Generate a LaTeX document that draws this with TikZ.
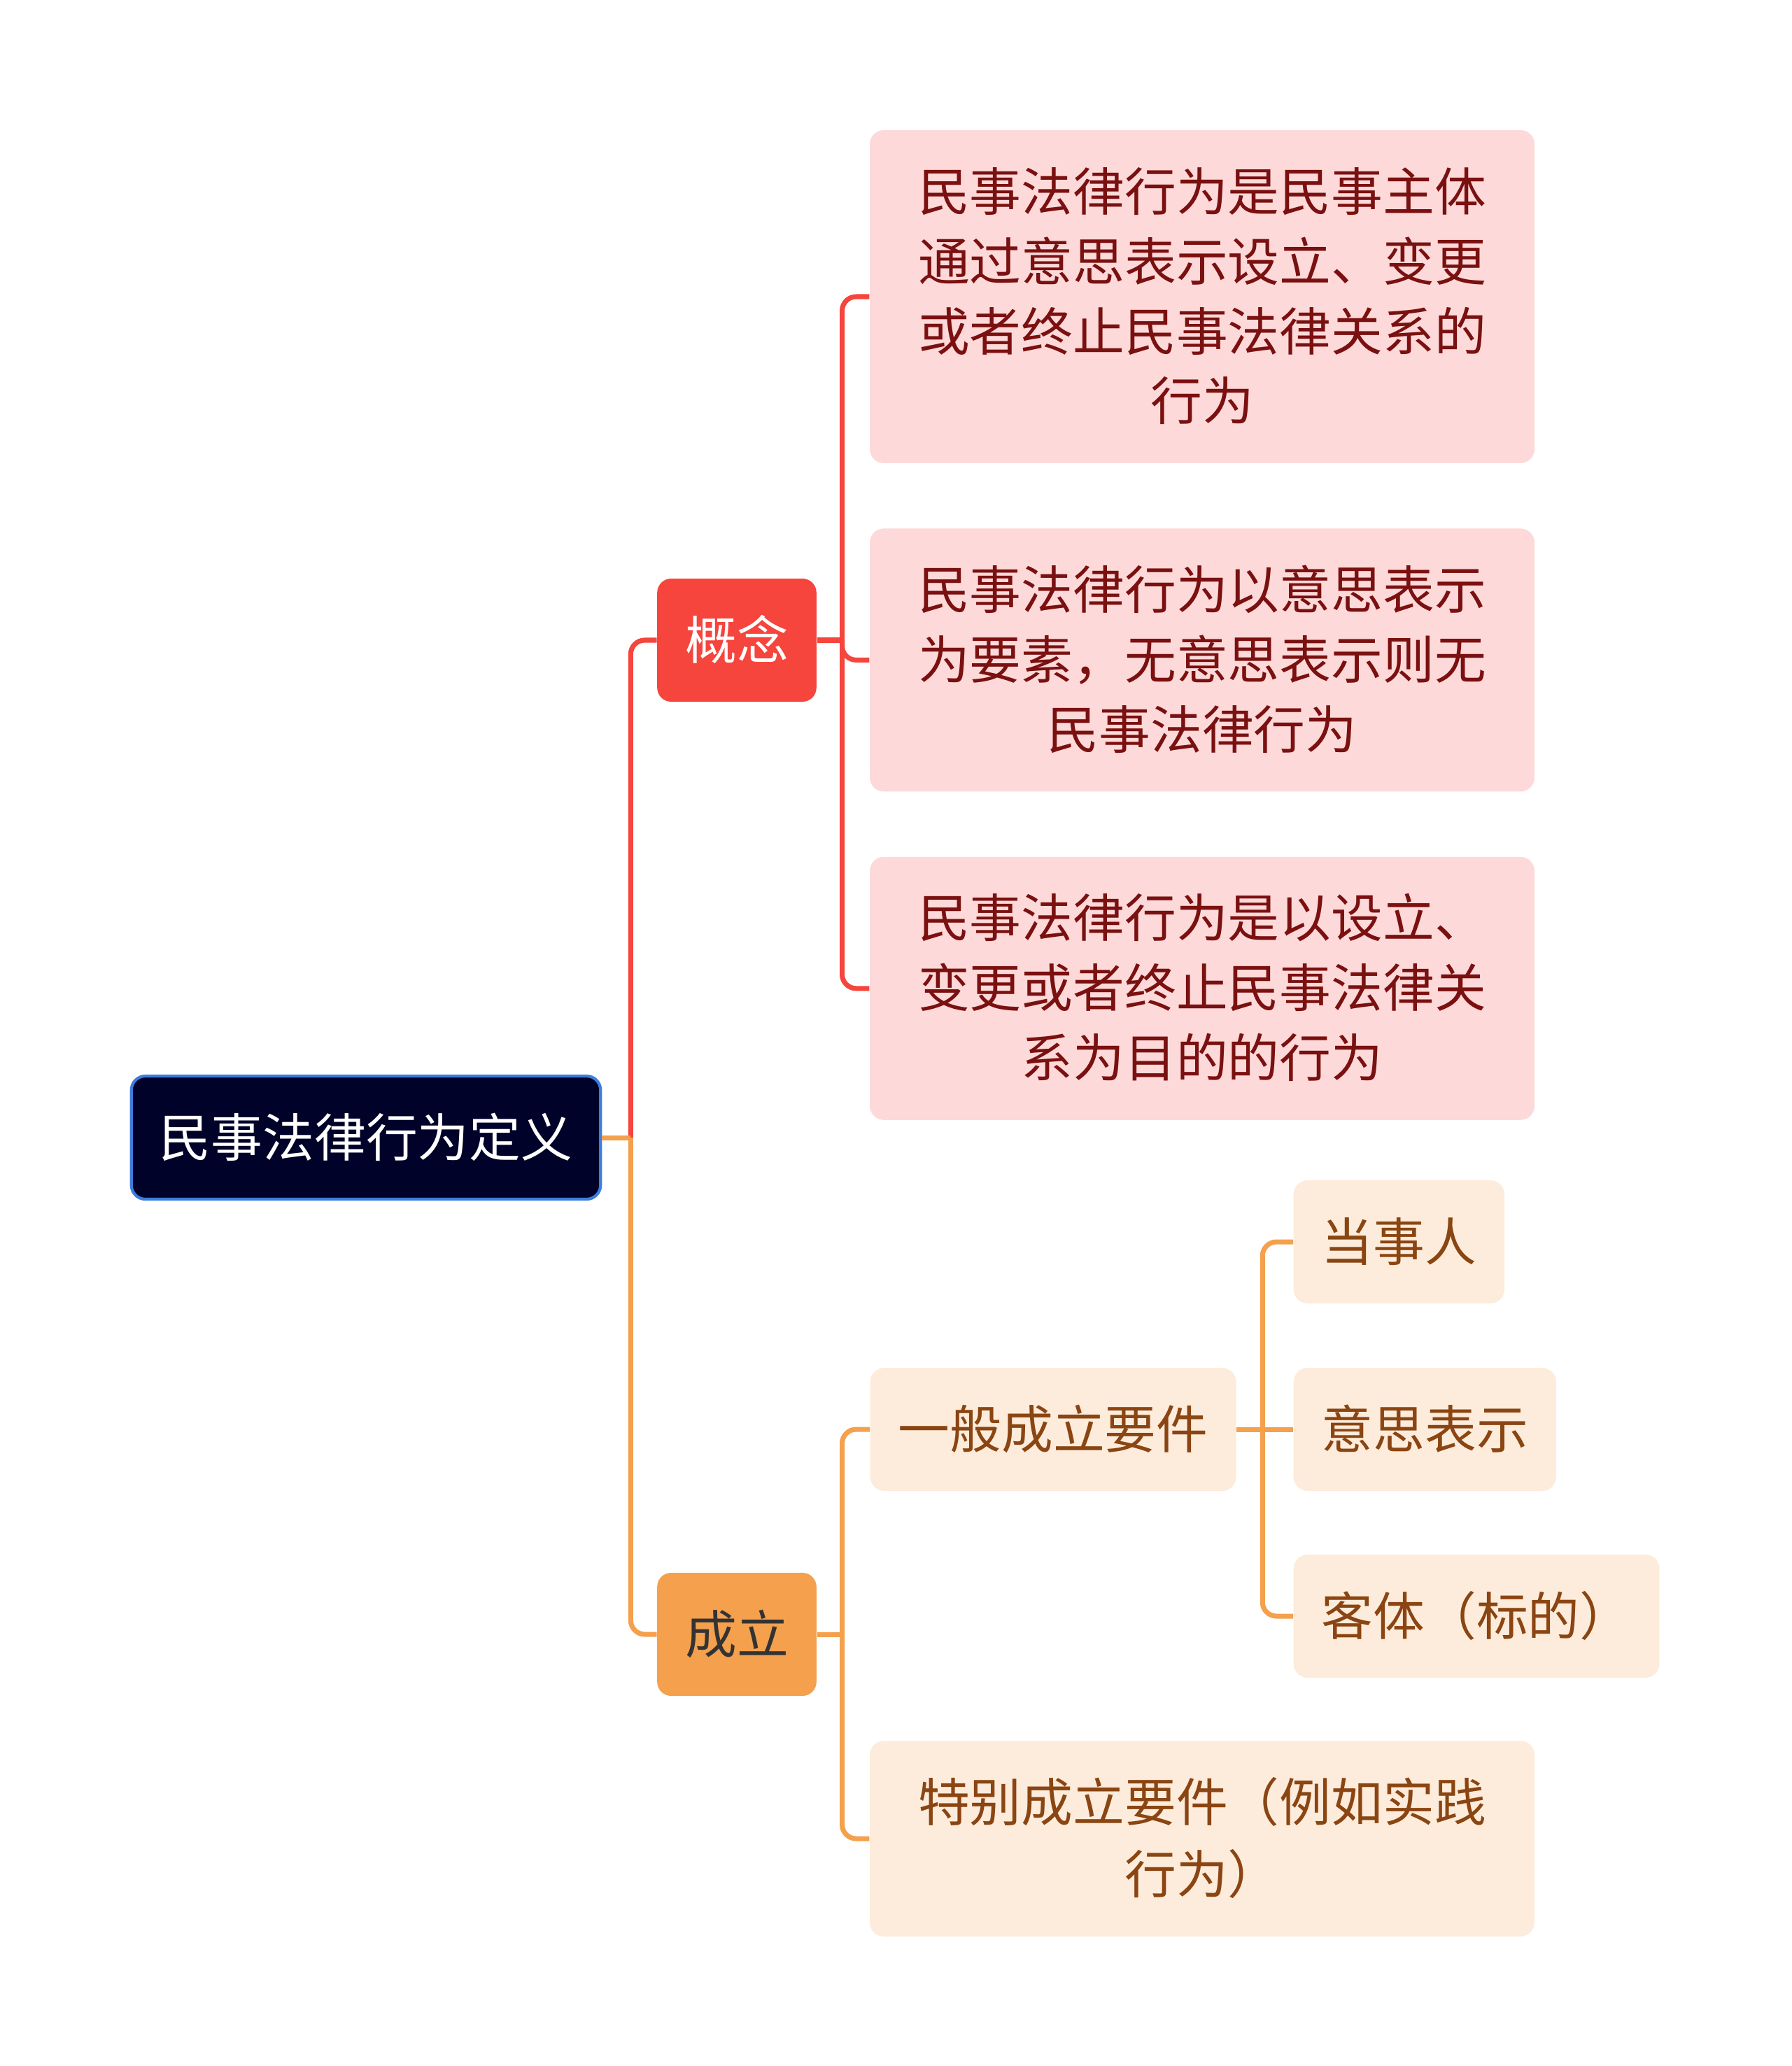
\documentclass[tikz,border=0pt]{standalone}
\usepackage{fontspec}
\newfontfamily\cjkfont{Noto Sans CJK SC}
\usetikzlibrary{positioning}

\definecolor{rootfill}{HTML}{000229}
\definecolor{rootdraw}{HTML}{3D7DDB}
\definecolor{redmain}{HTML}{F5453D}
\definecolor{orangemain}{HTML}{F4A04D}
\definecolor{pinkfill}{HTML}{FDD9D9}
\definecolor{pinktext}{HTML}{7A1010}
\definecolor{peachfill}{HTML}{FDECDB}
\definecolor{peachtext}{HTML}{8A4512}
\definecolor{darktext}{HTML}{333333}

\newcommand\boxstrut{\rule[-0.23cm]{0pt}{1cm}}
\newcommand\boxlines[1]{\boxstrut#1\boxstrut}

\begin{document}
\begin{tikzpicture}[
  node distance=0.92cm,
  topic/.style={rectangle, rounded corners=0.2cm, align=center,
              font=\cjkfont\fontsize{21pt}{28.45pt}\selectfont,
              inner xsep=0.4cm, inner ysep=0.38cm,
              execute at begin node=\boxstrut},
  rootbox/.style={topic, fill=rootfill, draw=rootdraw, line width=1.2pt, text=white},
  redbox/.style={topic, fill=redmain, text=white},
  orangebox/.style={topic, fill=orangemain, text=darktext},
  pinkbox/.style={topic, fill=pinkfill, text=pinktext, minimum width=9.5cm},
  peachbox/.style={topic, fill=peachfill, text=peachtext},
  wide/.style={minimum width=9.5cm},
  redline/.style={draw=redmain, line width=2pt, rounded corners=0.2cm},
  orangeline/.style={draw=orangemain, line width=2pt, rounded corners=0.2cm}
]
  \useasboundingbox (0,0) rectangle (25.6,-29.53);

  \node[rootbox] (root) at (5.23,-16.26) {民事法律行为定义};
  \node[redbox] (gainian) at (10.53,-9.15) {概念};
  \node[orangebox] (chengli) at (10.53,-23.36) {成立};

  % 概念
  \node[pinkbox] (def1) at (17.18,-4.24)
    {\boxlines{民事法律行为是民事主体\\通过意思表示设立、变更\\或者终止民事法律关系的\\行为}};
  \node[pinkbox, below=of def1] (def2)
    {\boxlines{民事法律行为以意思表示\\为要素，无意思表示则无\\民事法律行为}};
  \node[pinkbox, below=of def2] (def3)
    {\boxlines{民事法律行为是以设立、\\变更或者终止民事法律关\\系为目的的行为}};

  % 成立
  \node[peachbox, anchor=west] (yiban) at (12.43,-20.43) {一般成立要件};
  \node[peachbox, wide] (tebie) at (17.18,-26.28) {\boxlines{特别成立要件（例如实践\\行为）}};
  \node[peachbox, anchor=west] (dangshi) at (18.48,-17.75) {当事人};
  \node[peachbox, anchor=west] (yisi) at (18.48,-20.43) {意思表示};
  \node[peachbox, anchor=west] (keti) at (18.48,-23.10) {客体（标的）};

  \draw[redline] (root.east) -- ++(0.41,0);
  \draw[redline] (root.east) ++(0.41,0) |- (gainian.west);
  \draw[redline] (gainian.east) -- ++(0.36,0);
  \foreach \c in {def1,def2,def3}
    \draw[redline] (gainian.east) ++(0.36,0) |- (\c.west);

  \draw[orangeline] (root.east) -- ++(0.41,0);
  \draw[orangeline] (root.east) ++(0.41,0) |- (chengli.west);
  \draw[orangeline] (chengli.east) -- ++(0.36,0);
  \foreach \c in {yiban,tebie}
    \draw[orangeline] (chengli.east) ++(0.36,0) |- (\c.west);
  \draw[orangeline] (yiban.east) -- (yisi.west);
  \foreach \c in {dangshi,keti}
    \draw[orangeline] (yiban.east) ++(0.37,0) |- (\c.west);
\end{tikzpicture}
\end{document}
